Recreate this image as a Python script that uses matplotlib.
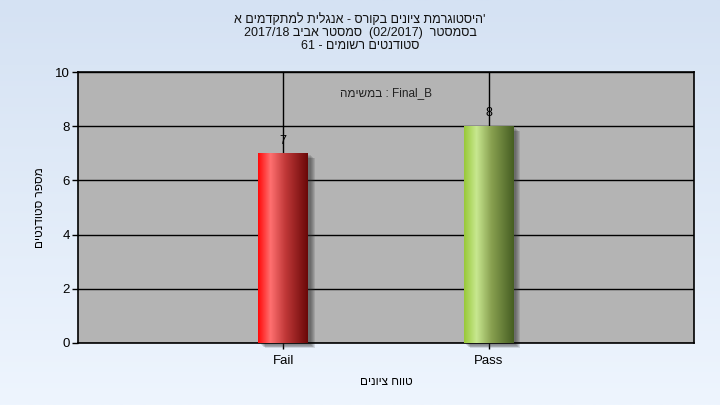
import re
import numpy as np
import matplotlib
matplotlib.use("Agg")
import matplotlib.pyplot as plt
from matplotlib.colors import LinearSegmentedColormap
from matplotlib.patches import Rectangle

plt.rcParams['font.family'] = ['Liberation Sans', 'DejaVu Sans']

categories = ['Fail', 'Pass']
counts = [7, 8]
bar_stops = [
    ['#ff0808', '#ff7070', '#c03838', '#6a0808'],
    ['#98c838', '#c8e890', '#88a050', '#465e22'],
]
title_lines = [
    "'היסטוגרמת ציונים בקורס - אנגלית למתקדמים א",
    "בסמסטר  (02/2017)  סמסטר אביב 2017/18",
    "סטודנטים רשומים - 61",
]
note = "Final_B : במשימה"
xlabel = "טווח ציונים"
ylabel = "מספר סטודנטים"
yticks = [0, 2, 4, 6, 8, 10]

LTR = r'[A-Za-z0-9_/.]'
mirror = str.maketrans('()', ')(')


def vis(s):
    # crude bidi: reverse run order, reverse hebrew runs
    runs = re.findall(LTR + r'+|[^A-Za-z0-9_/.]+', s)
    out = []
    for r in reversed(runs):
        if re.match(LTR, r):
            out.append(r)
        else:
            out.append(r[::-1].translate(mirror))
    return ''.join(out)


fig = plt.figure(figsize=(7.2, 4.05), dpi=100)

# background gradient
bg = fig.add_axes([0, 0, 1, 1], zorder=-10)
grad = np.linspace(0, 1, 256).reshape(-1, 1)
bg_cmap = LinearSegmentedColormap.from_list('bg', ['#d5e2f3', '#eef5fe'])
bg.imshow(grad, aspect='auto', cmap=bg_cmap, extent=[0, 1, 0, 1])
bg.axis('off')

ax = fig.add_axes([0.1083, 0.1531, 0.8556, 0.6691])
ax.set_facecolor('#b4b4b4')
x = np.arange(len(categories))
width = 0.243
bars = ax.bar(x, counts, width=width, color='none', zorder=3)

for i, b in enumerate(bars):
    x0, w, h = b.get_x(), b.get_width(), b.get_height()
    # soft shadow
    for k in range(5):
        dx = 0.012 + 0.005 * k
        dy = 0.07 + 0.03 * k
        ax.add_patch(Rectangle((x0 + dx, -dy), w, h, color='#303030',
                               alpha=0.14, lw=0, zorder=2, clip_on=False))
    cmap = LinearSegmentedColormap.from_list(
        'b%d' % i, list(zip([0, 0.25, 0.55, 1], bar_stops[i])))
    im = ax.imshow(np.linspace(0, 1, 256).reshape(1, -1), cmap=cmap,
                   aspect='auto', extent=[x0, x0 + w, 0, h], zorder=4)
    im.set_clip_path(b)
    ax.text(x[i], h + 0.25, str(counts[i]), ha='center', va='bottom',
            fontsize=9, zorder=5)

ax.set_xlim(-1, 2)
ax.set_ylim(0, 10)
ax.set_yticks(yticks)
ax.set_xticks(x)
ax.set_xticklabels(categories)
ax.grid(True, color='black', lw=1, zorder=1)
ax.set_axisbelow(True)
ax.tick_params(direction='out', length=4, width=1, labelsize=9.5,
               color='black', pad=2)
ax.tick_params(axis='x', labelsize=9.5, pad=5)
for sp in ax.spines.values():
    sp.set_color('black')
    sp.set_linewidth(1.2)

ax.text(0.5, 0.945, vis(note), transform=ax.transAxes, ha='center',
        va='top', fontsize=8.5, color='#222222')
ax.set_xlabel(vis(xlabel), fontsize=8.5, labelpad=6)
ax.set_ylabel(vis(ylabel), fontsize=8.5, labelpad=6)

fig.text(0.5, 0.968, '\n'.join(vis(t) for t in title_lines), ha='center',
         va='top', fontsize=9, linespacing=1.12, color='#111111')

fig.savefig('out.png', dpi=100)
